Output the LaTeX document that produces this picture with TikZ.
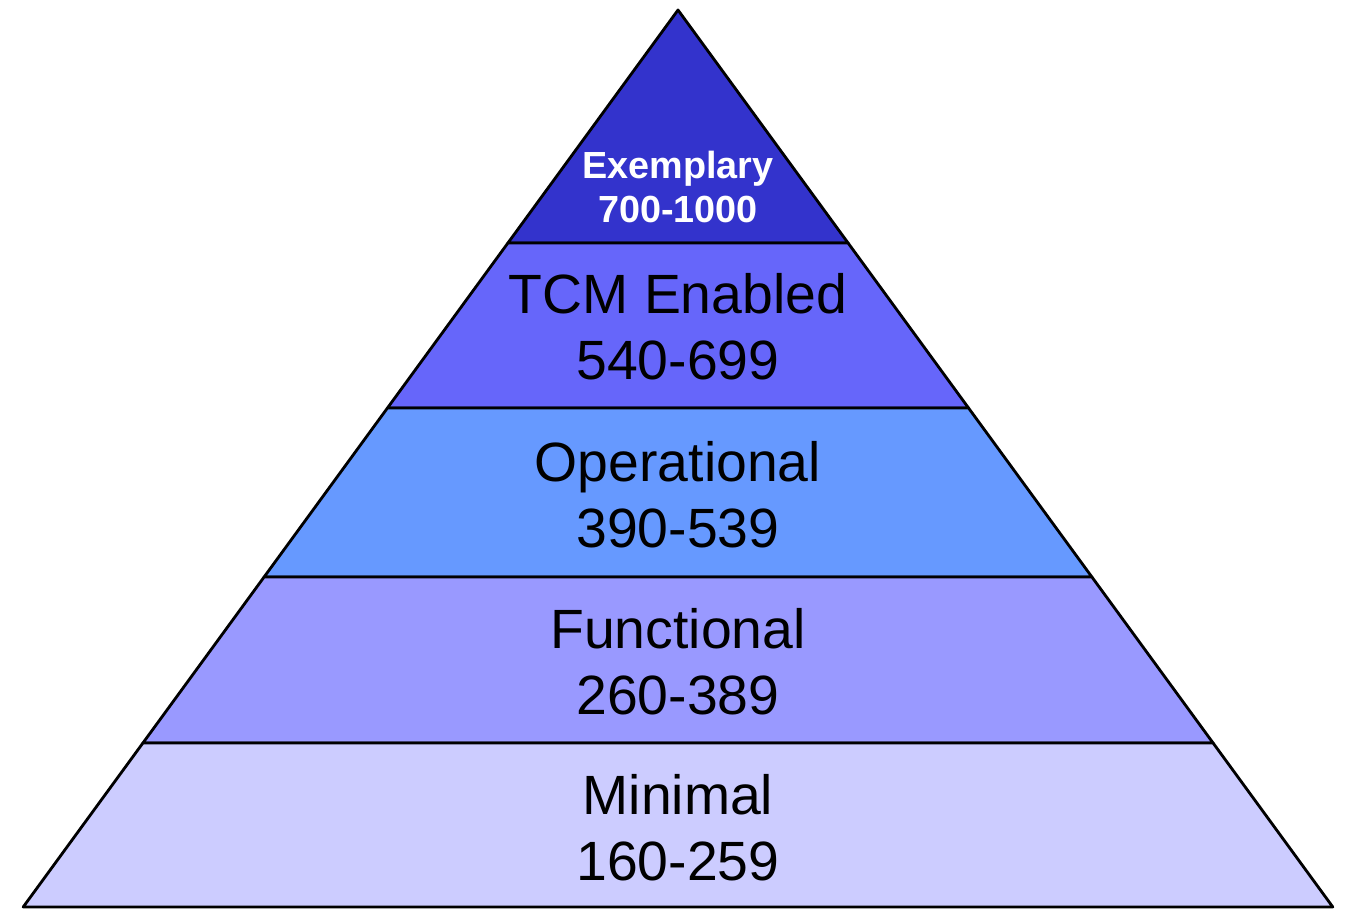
\documentclass[tikz,border=0pt]{standalone}
\usepackage{fontspec}
\setmainfont{Liberation Sans}
\usetikzlibrary{positioning}

\definecolor{lvlA}{RGB}{51,51,204}
\definecolor{lvlB}{RGB}{102,102,250}
\definecolor{lvlC}{RGB}{102,153,255}
\definecolor{lvlD}{RGB}{153,153,255}
\definecolor{lvlE}{RGB}{204,204,255}

\begin{document}
\begin{tikzpicture}[
	x = 0.02cm, y = -0.02cm,
	band/.style = {draw=black, line width=1.6pt, line join=round},
	levelname/.style = {align=center, text=black,
										font=\fontsize{31.5}{37.5}\selectfont},
	toplevel/.style = {align=center, text=white,
										font=\fontsize{21.5}{25.5}\selectfont\bfseries}]

\useasboundingbox (0,0) rectangle (1347,909);
%
\foreach \t/\b/\c in {10/243/lvlA, 243/408/lvlB, 408/577/lvlC,
											577/743/lvlD, 743/907/lvlE}
	\filldraw [band, fill=\c]
		({678-0.73*(\t-10)},\t) -- ({678+0.73*(\t-10)},\t)
		-- ({678+0.73*(\b-10)},\b) -- ({678-0.73*(\b-10)},\b) -- cycle;
%%
\node [toplevel]  (exemplary)   at (678,187) {Exemplary\\700-1000};
\node [levelname] (tcm)         at (678,327) {TCM Enabled\\540-699};
\node [levelname] (operational) at (678,495) {Operational\\390-539};
\node [levelname] (functional)  at (678,662) {Functional\\260-389};
\node [levelname] (minimal)     at (678,828) {Minimal\\160-259};
\end{tikzpicture}
\end{document}
